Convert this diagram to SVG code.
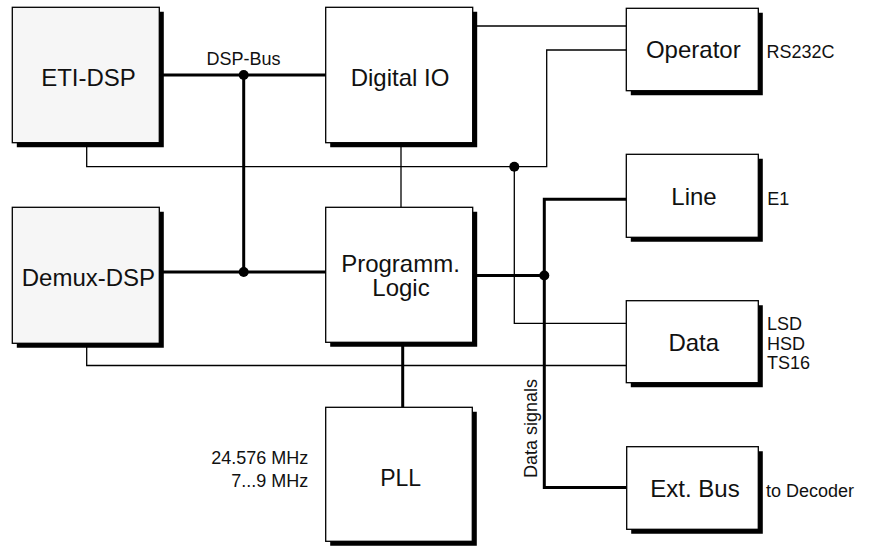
<svg xmlns="http://www.w3.org/2000/svg" width="873" height="546" viewBox="0 0 873 546">
<defs>
<style>
.box{stroke:#000;stroke-width:1.3;fill:#fff}
.grey{fill:#f6f6f6}
.bar{fill:#000;stroke:none}
.thin{stroke:#000;stroke-width:1.3;fill:none}
.thick{stroke:#000;stroke-width:3;fill:none}
.dot{fill:#000}
text{font-family:"Liberation Sans",Arial,sans-serif;fill:#111}
.lbl{font-size:24px;text-anchor:middle}
.sm{font-size:18px}
</style>
</defs>
<rect width="873" height="546" fill="#fff"/>
<g id="connectors">
<line class="thin" x1="473" y1="26" x2="626" y2="26"/>
<polyline class="thin" points="86.7,142 86.7,166.7 546.7,166.7 546.7,50 626,50"/>
<polyline class="thin" points="514.3,166.7 514.3,323.3 626,323.3"/>
<line class="thin" x1="401" y1="142" x2="401" y2="207"/>
<polyline class="thin" points="86.7,343 86.7,365.5 626,365.5"/>
<line class="thick" x1="159" y1="75" x2="326" y2="75"/>
<line class="thick" x1="243.7" y1="75" x2="243.7" y2="272"/>
<line class="thick" x1="159" y1="272" x2="326" y2="272"/>
<line class="thick" x1="473" y1="275.5" x2="544.3" y2="275.5"/>
<polyline class="thick" points="626,199.3 544.3,199.3 544.3,487.5 626,487.5"/>
<line class="thick" x1="402.7" y1="342" x2="402.7" y2="407"/>
<circle class="dot" cx="243.7" cy="75" r="5"/>
<circle class="dot" cx="243.7" cy="272" r="5"/>
<circle class="dot" cx="544.3" cy="275.5" r="5"/>
<circle class="dot" cx="514.3" cy="166.7" r="5"/>
</g>
<g id="eti-dsp">
<rect class="box grey" x="12.3" y="7.3" width="147" height="135.4"/>
<path class="bar" d="M159.3,11.8h4.5v135.4h-147v-4.5h142.5z"/>
<text class="lbl" x="88.5" y="86">ETI-DSP</text>
</g>
<g id="demux-dsp">
<rect class="box grey" x="12.3" y="207.3" width="147" height="136"/>
<path class="bar" d="M159.3,211.8h4.5v136h-147v-4.5h142.5z"/>
<text class="lbl" x="88.4" y="286">Demux-DSP</text>
</g>
<g id="digital-io">
<rect class="box" x="325.7" y="7.3" width="147" height="135.4"/>
<path class="bar" d="M472.7,11.8h4.5v135.4h-147v-4.5h142.5z"/>
<text class="lbl" x="400" y="86">Digital IO</text>
</g>
<g id="programm-logic">
<rect class="box" x="325.7" y="207.3" width="147" height="135"/>
<path class="bar" d="M472.7,211.8h4.5v135h-147v-4.5h142.5z"/>
<text class="lbl" x="400.5" y="271.7">Programm.</text>
<text class="lbl" x="401" y="296">Logic</text>
</g>
<g id="pll">
<rect class="box" x="325.7" y="407.3" width="146.6" height="134"/>
<path class="bar" d="M472.3,411.8h4.5v134h-146.6v-4.5h142.1z"/>
<text class="lbl" x="400.7" y="486" style="font-size:23px">PLL</text>
</g>
<g id="operator">
<rect class="box" x="626.3" y="8.3" width="132" height="82.4"/>
<path class="bar" d="M758.3,12.8h4.5v82.4h-132v-4.5h127.5z"/>
<text class="lbl" x="693.3" y="58.3">Operator</text>
</g>
<g id="line">
<rect class="box" x="626.3" y="154.3" width="132" height="83"/>
<path class="bar" d="M758.3,158.8h4.5v83h-132v-4.5h127.5z"/>
<text class="lbl" x="694" y="205">Line</text>
</g>
<g id="data">
<rect class="box" x="626.3" y="300.7" width="132" height="82"/>
<path class="bar" d="M758.3,305.2h4.5v82h-132v-4.5h127.5z"/>
<text class="lbl" x="693.8" y="350.7">Data</text>
</g>
<g id="ext-bus">
<rect class="box" x="626.7" y="446.7" width="131.6" height="82.6"/>
<path class="bar" d="M758.3,451.2h4.5v82.6h-131.6v-4.5h127.1z"/>
<text class="lbl" x="695" y="496.7">Ext. Bus</text>
</g>
<g id="labels">
<text class="sm" x="243.5" y="65" text-anchor="middle">DSP-Bus</text>
<text class="sm" x="766.5" y="57.5">RS232C</text>
<text class="sm" x="767.3" y="205">E1</text>
<text class="sm" x="767" y="330">LSD</text>
<text class="sm" x="767" y="349.5">HSD</text>
<text class="sm" x="767" y="369">TS16</text>
<text class="sm" x="766" y="496.7">to Decoder</text>
<text class="sm" x="308.3" y="464" text-anchor="end">24.576 MHz</text>
<text class="sm" x="308.3" y="486.7" text-anchor="end">7...9 MHz</text>
<text class="sm" transform="translate(536.5,428.5) rotate(-90)" text-anchor="middle">Data signals</text>
</g>
</svg>
